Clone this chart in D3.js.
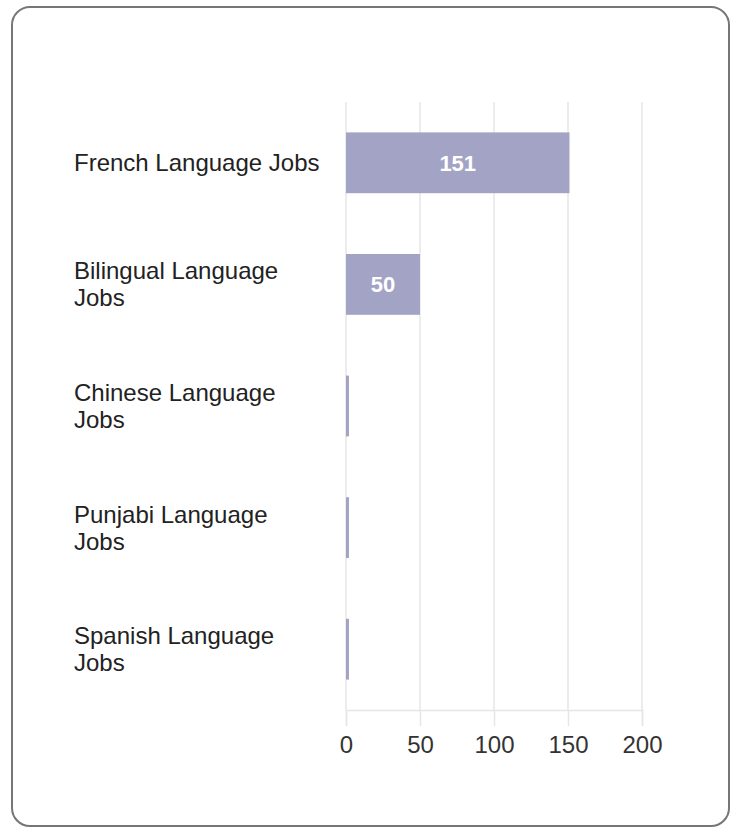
<!DOCTYPE html>
<html><head><meta charset="utf-8">
<script src="https://cdn.jsdelivr.net/npm/d3@7"></script>
<style>html,body{margin:0;padding:0;background:#fff;}svg{display:block;}</style>
</head><body>
<svg id="chart" width="737" height="827"></svg>
<script>
const categories = ["French Language Jobs","Bilingual Language Jobs","Chinese Language Jobs","Punjabi Language Jobs","Spanish Language Jobs"];
const values = [151, 50, 2, 2, 2];
const tickValues = [0, 50, 100, 150, 200];

(function () {
const svg = d3.select("#chart");
const font = "'Liberation Sans', Arial, sans-serif";

svg.append("rect").attr("x", 12).attr("y", 7).attr("width", 717).attr("height", 819)
  .attr("rx", 18).attr("ry", 18).attr("fill", "#fff").attr("stroke", "#767676").attr("stroke-width", 2);

const pLeft = 346, pRight = 642, pTop = 102, pBottom = 710;
const x = d3.scaleLinear().domain([0, 200]).range([pLeft, pRight]);
const y = d3.scaleBand().domain(categories).range([pTop, pBottom]).paddingInner(0.5).paddingOuter(0.25);

// grid
svg.append("g").selectAll("line").data(tickValues).join("line")
  .attr("x1", d => x(d)).attr("x2", d => x(d)).attr("y1", pTop).attr("y2", pBottom)
  .attr("stroke", "#e6e6e6").attr("stroke-width", 1.5);

// x axis
const ax = svg.append("g").attr("transform", `translate(0,${pBottom})`)
  .call(d3.axisBottom(x).tickValues(tickValues).tickSize(16).tickPadding(10));
ax.select(".domain").attr("stroke", "#e6e6e6").attr("stroke-width", 1.5);
ax.selectAll(".tick line").attr("stroke", "#e6e6e6").attr("stroke-width", 1.5);
ax.selectAll(".tick text").attr("font-family", font).attr("font-size", 24).attr("fill", "#333");

// bars
svg.append("g").selectAll("rect").data(categories).join("rect")
  .attr("x", x(0)).attr("y", d => y(d)).attr("height", y.bandwidth())
  .attr("width", (d, i) => x(values[i]) - x(0)).attr("fill", "#a3a3c6");

// value labels
svg.append("g").selectAll("text").data(categories.filter((d, i) => values[i] >= 20)).join("text")
  .attr("x", d => (x(0) + x(values[categories.indexOf(d)])) / 2)
  .attr("y", d => y(d) + y.bandwidth() / 2)
  .attr("dy", "0.36em").attr("text-anchor", "middle")
  .attr("font-family", font).attr("font-size", 22).attr("font-weight", "bold").attr("fill", "#fff")
  .text(d => values[categories.indexOf(d)]);

// category labels with wrapping
const maxW = 247;
const labels = svg.append("g");
categories.forEach(c => {
  const t = labels.append("text").attr("x", 74).attr("font-family", font).attr("font-size", 24).attr("fill", "#222");
  const words = c.split(" ");
  let lines = [], cur = [];
  const tmp = t.append("tspan");
  words.forEach(w => {
    const test = cur.concat([w]).join(" ");
    tmp.text(test);
    if (tmp.node().getComputedTextLength() > maxW && cur.length) { lines.push(cur.join(" ")); cur = [w]; }
    else cur.push(w);
  });
  lines.push(cur.join(" "));
  tmp.remove();
  const lh = 27;
  const cy = y(c) + y.bandwidth() / 2;
  const firstBase = cy - (lines.length - 1) * lh / 2 + 8.5;
  lines.forEach((l, i) => t.append("tspan").attr("x", 74).attr("y", firstBase + i * lh).text(l));
});
})();
</script>
</body></html>
